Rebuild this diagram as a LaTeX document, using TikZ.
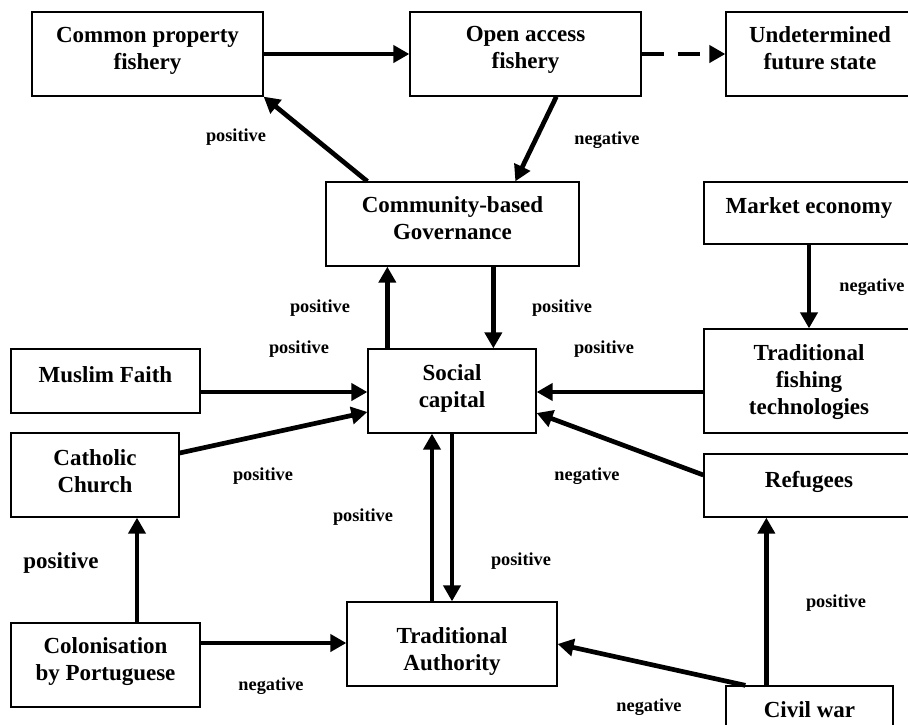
\documentclass[tikz,border=0pt]{standalone}
\usepackage{fontspec}
\setmainfont{Liberation Serif}
\usetikzlibrary{arrows.meta,positioning}

\tikzset{
    box/.style={draw, line width=1.3pt, inner sep=0pt},
    btxt/.style={font=\fontsize{23}{27}\selectfont\bfseries, align=center, inner sep=0pt},
    lbl/.style={font=\fontsize{18.3}{22}\selectfont\bfseries, inner sep=0pt},
    arr/.style={line width=4.7pt, -{Triangle[length=16pt,width=17pt]}}
}

\begin{document}
\begin{tikzpicture}[x=1pt, y=-1pt]
        \useasboundingbox (0,0) rectangle (908,724);
        \clip (0,0) rectangle (908,724);

        % TOP ROW
        \node[box, minimum width=231, minimum height=84] (cpf) at (147.5,54) {};
        \node[btxt, below=16pt of cpf.north] (cpf-t) {Common property\\fishery};

        \node[box, minimum width=231, minimum height=84] (oaf) at (525.5,54) {};
        \node[btxt, below=15pt of oaf.north] (oaf-t) {Open access\\fishery};

        \node[box, minimum width=188, minimum height=84] (ufs) at (820,54) {};
        \node[btxt, below=15pt of ufs.north] (ufs-t) {Undetermined\\future state};

        % GOVERNANCE AND MARKET
        \node[box, minimum width=253, minimum height=84] (cbg) at (452.5,224) {};
        \node[btxt, below=15pt of cbg.north] (cbg-t) {Community-based\\Governance};

        \node[box, minimum width=210, minimum height=62] (mkt) at (809,213) {};
        \node[btxt, below=16pt of mkt.north] (mkt-t) {Market economy};

        % MIDDLE ROW
        \node[box, minimum width=189, minimum height=64] (mus) at (105.5,381) {};
        \node[btxt, below=18pt of mus.north] (mus-t) {Muslim Faith};

        \node[box, minimum width=168, minimum height=84] (soc) at (452,391) {};
        \node[btxt, below=16pt of soc.north] (soc-t) {Social\\capital};

        \node[box, minimum width=210, minimum height=104] (tft) at (809,381) {};
        \node[btxt, below=16pt of tft.north] (tft-t) {Traditional\\fishing\\technologies};

        \node[box, minimum width=168, minimum height=84] (cat) at (95,475) {};
        \node[btxt, below=17pt of cat.north] (cat-t) {Catholic\\Church};

        \node[box, minimum width=210, minimum height=63] (ref) at (809,485.5) {};
        \node[btxt, below=18pt of ref.north] (ref-t) {Refugees};

        % BOTTOM ROW
        \node[box, minimum width=189, minimum height=84] (col) at (105.5,665) {};
        \node[btxt, below=15pt of col.north] (col-t) {Colonisation\\by Portuguese};

        \node[box, minimum width=210, minimum height=84] (tra) at (452,644) {};
        \node[btxt, below=26pt of tra.north] (tra-t) {Traditional\\Authority};

        \node[box, minimum width=167, minimum height=84] (civ) at (809.5,728) {};
        \node[btxt, below=16pt of civ.north] (civ-t) {Civil war};

        % ARROWS
        \draw[arr] (cpf.east) -- (oaf.west);
        \draw[arr, dash pattern=on 22pt off 14pt] (oaf.east) -- (ufs.west);
        \draw[arr] ([xshift=42pt]cbg.north west) -- (cpf.south east);
        \draw[arr] ([xshift=147pt]oaf.south west) -- ([xshift=190pt]cbg.north west);
        \draw[arr] ([xshift=20pt]soc.north west) -- ([xshift=20pt]soc.north west |- cbg.south);
        \draw[arr] ([xshift=126pt]soc.north west |- cbg.south) -- ([xshift=126pt]soc.north west);
        \draw[arr] (mkt.south) -- (tft.north);
        \draw[arr] ([yshift=-11pt]mus.east) -- ([yshift=-11pt]mus.east -| soc.west);
        \draw[arr] ([yshift=22pt]cat.east) -- ([yshift=-21pt]soc.west);
        \draw[arr] ([yshift=-11pt]tft.west) -- ([yshift=-11pt]tft.west -| soc.east);
        \draw[arr] ([yshift=10.5pt]ref.west) -- ([yshift=-22pt]soc.east);
        \draw[arr] ([xshift=-20pt]tra.north) -- ([xshift=-20pt]soc.south);
        \draw[arr] (soc.south) -- (tra.north);
        \draw[arr] ([xshift=31.5pt]col.north) -- ([xshift=31.5pt]col.north |- cat.south);
        \draw[arr] ([yshift=22pt]col.east) -- ([yshift=22pt]col.east -| tra.west);
        \draw[arr] ([xshift=20pt]civ.north west) -- (tra.east);
        \draw[arr] ([xshift=41pt]civ.north west) -- ([xshift=41pt]civ.north west |- ref.south);

        % LABELS
        \node[lbl] (l-cbg-cpf) at (236,137) {positive};
        \node[lbl] (l-oaf-cbg) at (607,140) {negative};
        \node[lbl] (l-soc-cbg) at (320,308) {positive};
        \node[lbl] (l-cbg-soc) at (562,308) {positive};
        \node[lbl] (l-mus-soc) at (299,349) {positive};
        \node[lbl] (l-tft-soc) at (604,349) {positive};
        \node[lbl] (l-mkt-tft) at (872,287) {negative};
        \node[lbl] (l-cat-soc) at (263,476) {positive};
        \node[lbl] (l-ref-soc) at (587,476) {negative};
        \node[lbl] (l-tra-soc) at (363,517) {positive};
        \node[lbl] (l-soc-tra) at (521,561) {positive};
        \node[btxt] (l-col-cat) at (61,563) {positive};
        \node[lbl] (l-col-tra) at (271,686) {negative};
        \node[lbl] (l-civ-ref) at (836,603) {positive};
        \node[lbl] (l-civ-tra) at (649,707) {negative};
\end{tikzpicture}
\end{document}
